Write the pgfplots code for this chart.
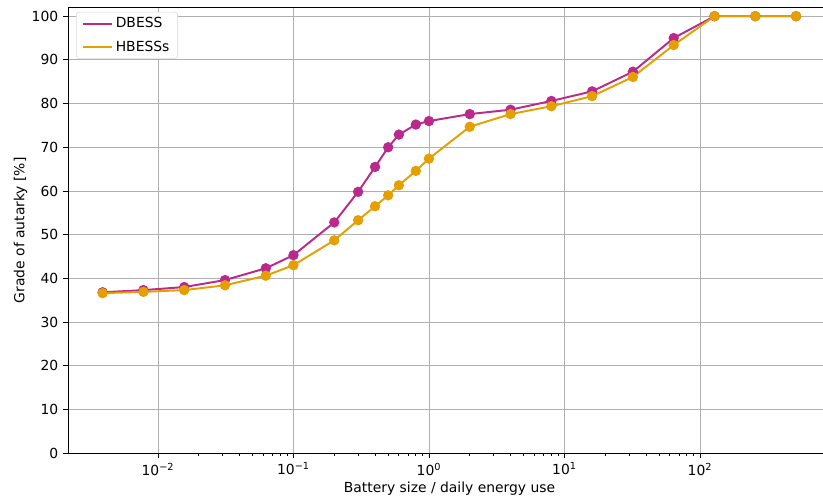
\documentclass[border=0pt]{standalone}
\usepackage{pgfplots}
\pgfplotsset{compat=1.18}
\usepackage{fontspec}
\setmainfont{DejaVu Sans}
\definecolor{dbess}{HTML}{BA2A8C}
\definecolor{hbess}{HTML}{E69F00}
\definecolor{gridc}{HTML}{B0B0B0}
\begin{document}
\begin{tikzpicture}
\begin{axis}[
  scale only axis,
  width=543.6pt, height=320.8pt,
  xmode=log,
  xmin=0.002168, xmax=809,
  ymin=0, ymax=102,
  ytick={0,10,...,100},
  xtick={0.01,0.1,1,10,100},
  xticklabels={10\textsuperscript{−2},10\textsuperscript{−1},10\textsuperscript{0},10\textsuperscript{1},10\textsuperscript{2}},
  /pgf/number format/assume math mode=true,
  tick align=outside,
  tick pos=left,
  major tick length=3.5pt,
  minor tick length=2pt,
  tick style={black, line width=0.6pt},
  xmajorgrids, ymajorgrids,
  major grid style={gridc, line width=0.6pt},
  axis line style={black, line width=0.6pt},
  font=\fontsize{10}{12}\selectfont,
  xlabel={Battery size / daily energy use},
  ylabel={Grade of autarky [\%]},
  every axis x label/.style={at={(axis description cs:0.5,0)}, xshift=2.9pt, yshift=-25.9pt, anchor=center},
  every axis y label/.style={at={(axis description cs:0,0.5)}, xshift=-34.1pt, rotate=90, anchor=center},
  legend style={at={(0.0107,0.99)}, anchor=north west, draw=gray!30, rounded corners=2pt, fill=white, font=\fontsize{10}{12}\selectfont, row sep=4pt, inner xsep=4pt, inner ysep=1.8pt},
  legend cell align=left,
  legend image code/.code={\draw[#1, mark=none] (0cm,0cm) -- (21pt,0cm);},
]
\addplot[color=dbess, line width=1.4pt, mark=*, mark size=3pt, mark options={solid, fill=dbess, draw=dbess}] coordinates {
(0.00390625,36.8) (0.0078125,37.3) (0.015625,38.0) (0.03125,39.6) (0.0625,42.3) (0.1,45.3)
(0.2,52.8) (0.3,59.8) (0.4,65.5) (0.5,70.0) (0.6,72.9) (0.8,75.2) (1,76.0)
(2,77.6) (4,78.6) (8,80.6) (16,82.8) (32,87.3) (64,95.0) (128,100) (256,100) (512,100)
};
\addlegendentry{DBESS}
\addplot[color=hbess, line width=1.4pt, mark=*, mark size=3pt, mark options={solid, fill=hbess, draw=hbess}] coordinates {
(0.00390625,36.6) (0.0078125,36.9) (0.015625,37.3) (0.03125,38.4) (0.0625,40.6) (0.1,43.0)
(0.2,48.7) (0.3,53.3) (0.4,56.5) (0.5,59.0) (0.6,61.3) (0.8,64.6) (1,67.4)
(2,74.7) (4,77.6) (8,79.4) (16,81.7) (32,86.1) (64,93.4) (128,100) (256,100) (512,100)
};
\addlegendentry{HBESSs}
\end{axis}
\pgfresetboundingbox
\path ([xshift=-48.96pt,yshift=-33.8pt]current axis.south west) rectangle ([yshift=5.4pt]current axis.north east);
\end{tikzpicture}
\end{document}
